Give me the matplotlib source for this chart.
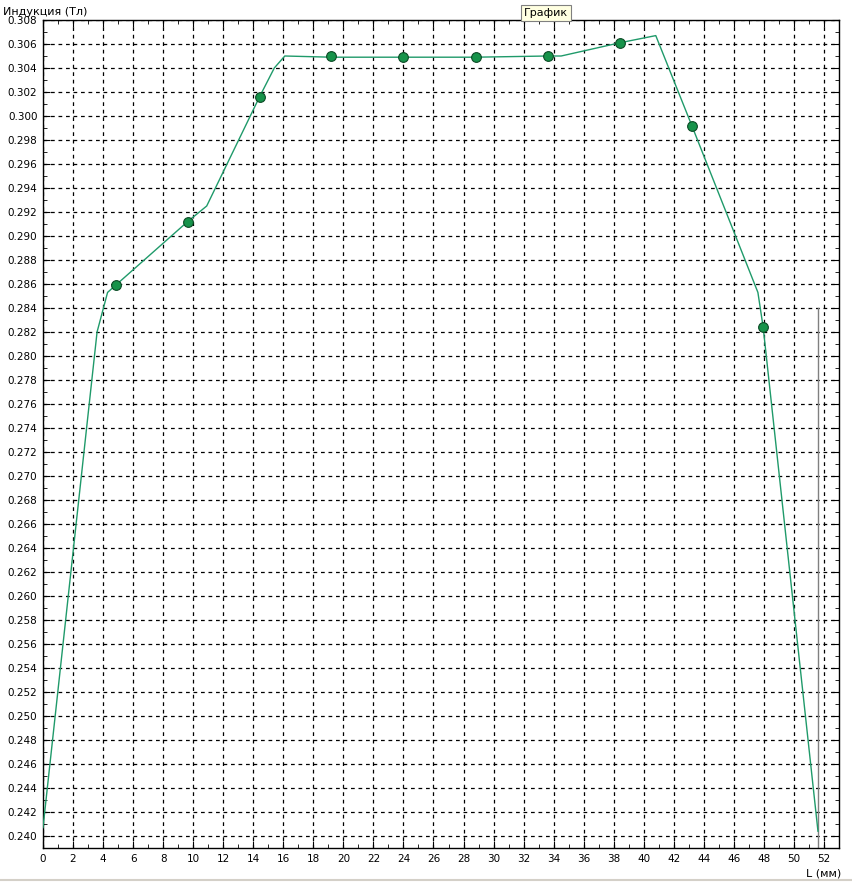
import numpy as np
import matplotlib.pyplot as plt
from matplotlib.ticker import MultipleLocator

# curve vertices (mm, Tl)
line_x = [0.0, 3.6, 4.3, 4.84, 9.63, 10.9, 14.42, 15.4, 16.1, 19.2, 24.0, 28.8, 33.6, 34.5, 38.4, 40.8, 43.2, 47.6, 47.95, 51.6]
line_y = [0.2407, 0.2820, 0.2853, 0.2859, 0.2912, 0.2925, 0.3016, 0.3040, 0.3050, 0.3049, 0.3049, 0.3049, 0.3050, 0.3050, 0.3061, 0.3067, 0.2992, 0.2853, 0.2824, 0.2404]

# measured points
pts_x = [4.84, 9.63, 14.42, 19.2, 24.0, 28.8, 33.6, 38.4, 43.2, 47.95]
pts_y = [0.2859, 0.2912, 0.3016, 0.3050, 0.3049, 0.3049, 0.3050, 0.3061, 0.2992, 0.2824]

# gray marker line
cursor_x = 51.6
cursor_y = [0.2390, 0.2840]

plt.rcParams['font.family'] = ['DejaVu Sans']
fig = plt.figure(figsize=(8.53, 8.83), dpi=100)
W, H = 853, 883
ax = fig.add_axes([43 / W, (H - 848) / H, (839 - 43) / W, (848 - 20) / H])

ax.plot(line_x, line_y, color='#1f9a6a', lw=1.0, zorder=3)
ax.plot(pts_x, pts_y, 'o', ms=7, mfc='#16934a', mec='#0b4a25', mew=0.8, zorder=4)
ax.plot([cursor_x, cursor_x], cursor_y, color='#808080', lw=1.0, zorder=2)

ax.set_xlim(0, 53)
ax.set_ylim(0.2390, 0.3080)
ax.xaxis.set_major_locator(MultipleLocator(2))
ax.xaxis.set_minor_locator(MultipleLocator(1))
ax.yaxis.set_major_locator(MultipleLocator(0.002))
ax.yaxis.set_minor_locator(MultipleLocator(0.001))
ax.yaxis.set_major_formatter(plt.FormatStrFormatter('%.3f'))
ax.tick_params(which='both', direction='in', top=True, right=True, labelsize=7.5, pad=4)
ax.tick_params(which='major', length=5)
ax.tick_params(which='minor', length=3)
ax.grid(True, which='major', color='black', ls=(0, (3, 3)), lw=0.9)
for s in ax.spines.values():
    s.set_linewidth(1.0)

fig.text(3 / W, 1 - 12 / H, 'Индукция (Тл)', fontsize=8, va='center', ha='left')
fig.text(841 / W, 1 - 873 / H, 'L (мм)', fontsize=8, va='center', ha='right')
fig.text(546 / W, 1 - 13 / H, 'График', fontsize=8, va='center', ha='center',
         bbox=dict(boxstyle='square,pad=0.25', fc='#ffffe1', ec='#808080', lw=0.8))
fig.add_artist(plt.Line2D([0, 1], [1 - 880 / H, 1 - 880 / H], color='#d4d0c8', lw=1.5))

fig.savefig('out.png', dpi=100)
